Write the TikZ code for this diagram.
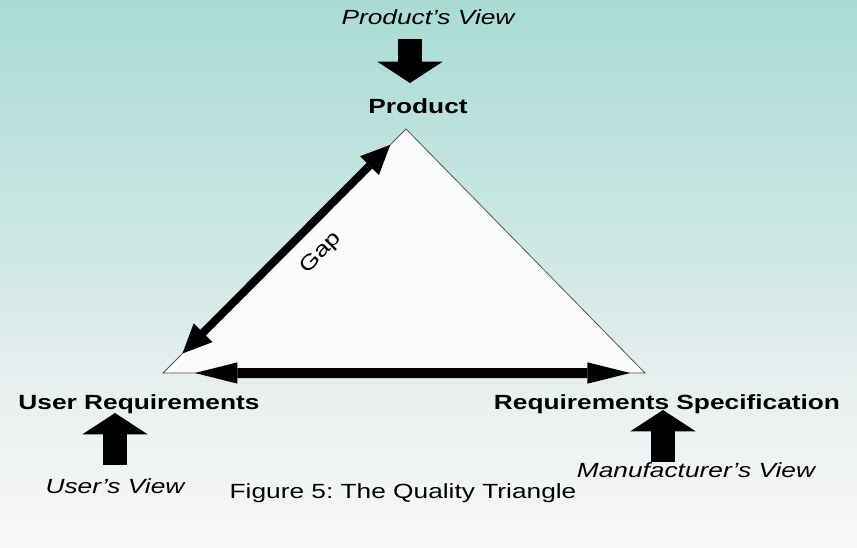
\documentclass[tikz,border=0pt]{standalone}
\usepackage{fontspec}
\setmainfont[FakeStretch=1.28]{Liberation Sans}
\usetikzlibrary{arrows.meta, positioning, calc}
\definecolor{SkyTop}{HTML}{A9DBD4}
\definecolor{SkyMid}{HTML}{D2E9E6}
\definecolor{SkyLow}{HTML}{E8EFEF}
\definecolor{Paper}{HTML}{F8F8F8}
\definecolor{EdgeGray}{HTML}{555555}
\newcommand{\figsize}{\fontsize{15.4pt}{18pt}\selectfont}
\frenchspacing
\pgfdeclareverticalshading{skyfade}{100bp}{color(0bp)=(Paper); color(25bp)=(Paper);
    color(40bp)=(SkyLow); color(50bp)=(SkyMid); color(75bp)=(SkyTop); color(100bp)=(SkyTop)}

\begin{document}
\begin{tikzpicture}[x=0.75pt, y=-0.75pt,
    vertexlabel/.style={font=\figsize\bfseries, anchor=base, inner sep=0pt},
    viewlabel/.style={font=\figsize\itshape, anchor=base, inner sep=0pt},
    viewarrow/.style={line width=18pt, -{Triangle[length=16pt, width=49pt, line width=0pt]}},
    gaparrow/.style={line width=6pt,
        {Triangle[length=22pt, width=20pt, line width=0pt]}-{Triangle[length=22pt, width=20pt, line width=0pt]}},
    basearrow/.style={line width=7.5pt,
        {Triangle[length=32pt, width=16pt, line width=0pt]}-{Triangle[length=32pt, width=16pt, line width=0pt]}}]

    % Background
    \path[use as bounding box, shading=skyfade] (0,0) rectangle (857,547);

    % The triangle
    \coordinate (top) at (406,129);
    \coordinate (left) at (163,373);
    \coordinate (right) at (645,373);
    \draw[draw=EdgeGray, line width=0.6pt, fill=Paper!60!white] (top) -- (left) -- (right) -- cycle;

    % Corner labels
    \node[vertexlabel] (product) at (418,113) {Product};
    \node[vertexlabel] (ureq) at (139,409) {User Requirements};
    \node[vertexlabel] (rspec) at (667,409) {Requirements Specification};

    % Views
    \node[viewlabel] (pview) at (428,24) {Product's View};
    \node[viewlabel] (uview) at (115,493) {User's View};
    \node[viewlabel] (mview) at (696,477) {Manufacturer's View};

    \coordinate (pvtail) at (410,39);
    \coordinate (pvtip) at (410,83);
    \coordinate (uvtail) at (115,465);
    \coordinate (uvtip) at (115,413);
    \coordinate (mvtail) at (663,462);
    \coordinate (mvtip) at (663,410);
    \draw[viewarrow] (pvtail) -- (pvtip);
    \draw[viewarrow] (uvtail) -- (uvtip);
    \draw[viewarrow] (mvtail) -- (mvtip);

    % Gap and base arrows
    \draw[gaparrow] ($(left)!0.08!(top)$) -- ($(left)!0.935!(top)$);
    \draw[basearrow] ($(left)!0.066!(right)$) -- ($(left)!0.969!(right)$);
    \node[font=\figsize, rotate=45, inner sep=1pt] (gap) at (321,253) {Gap};

    % Caption
    \node[font=\figsize, anchor=base, inner sep=0pt] (caption) at (403,498) {Figure 5: The Quality Triangle};
\end{tikzpicture}
\end{document}
